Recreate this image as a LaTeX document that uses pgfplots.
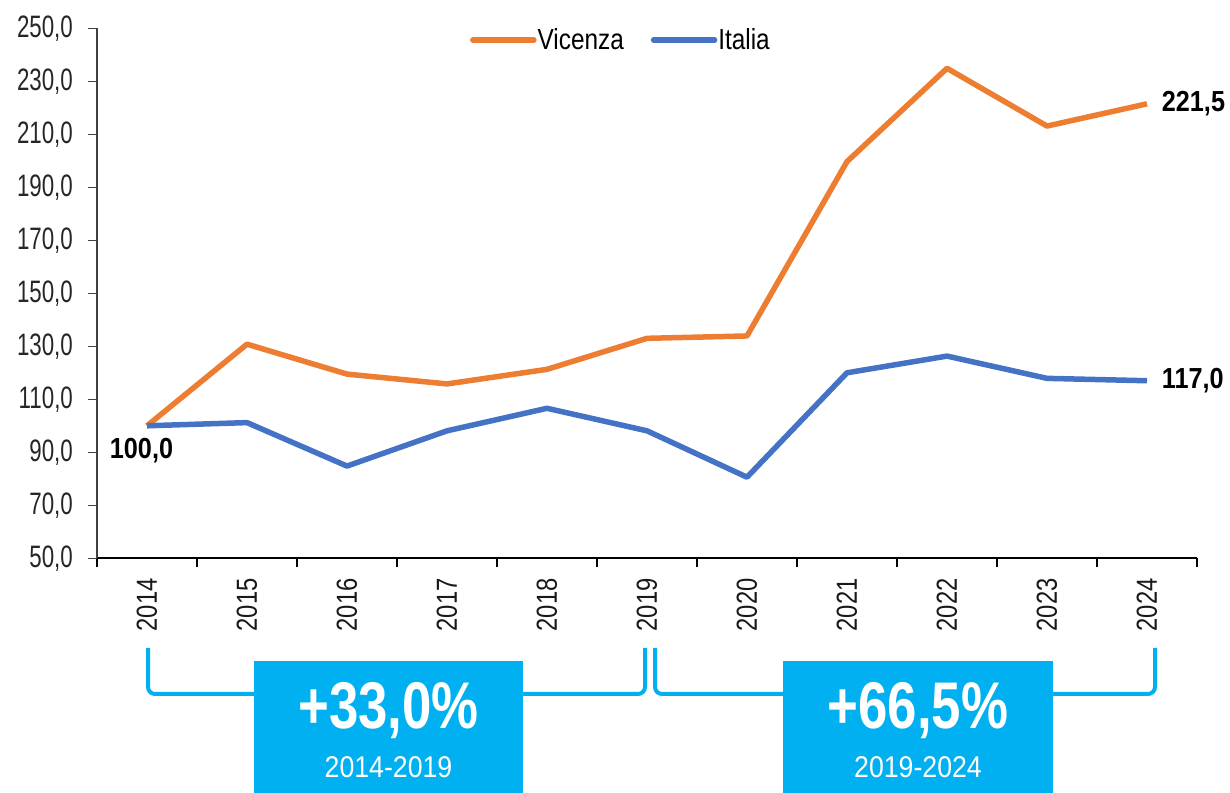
\documentclass[border=0pt]{standalone}
\usepackage{fontspec}
\setmainfont{Liberation Sans}
\newfontfamily\fTick{Liberation Sans}[FakeStretch=0.72]
\newfontfamily\fYear{Liberation Sans}[FakeStretch=0.82]
\newfontfamily\fLeg{Liberation Sans}[FakeStretch=0.84]
\newfontfamily\fLab{Liberation Sans}[FakeStretch=0.87]
\newfontfamily\fBig{Liberation Sans}[FakeStretch=0.80]
\newfontfamily\fSmall{Liberation Sans}[FakeStretch=0.89]
\usepackage{pgfplots}
\usepackage{pgfplotstable}
\pgfplotsset{compat=1.18}
\definecolor{vic}{HTML}{ED7D31}
\definecolor{ita}{HTML}{4472C4}
\definecolor{cy}{HTML}{00B0F0}

\pgfplotstableread{
year vic ita
2014 100.0 100.0
2015 130.8 101.2
2016 119.5 84.8
2017 115.8 98.1
2018 121.3 106.6
2019 133.0 98.1
2020 133.9 80.6
2021 199.7 120.0
2022 234.9 126.3
2023 213.1 117.9
2024 221.5 117.0
}\datatable

\begin{document}
\begin{tikzpicture}[x=1bp,y=1bp]
\useasboundingbox (0,0) rectangle (1230,793);
\begin{axis}[
  at={(97bp,234.7bp)}, anchor=south west,
  scale only axis, width=1100bp, height=530bp,
  xmin=2013.5, xmax=2024.5, ymin=50, ymax=250,
  clip=false,
  axis x line*=bottom, axis y line*=left,
  x axis line style={black, line width=2.2bp},
  y axis line style={black!75, line width=1.5bp},
  tick align=outside,
  major tick length=9bp,
  ytick={50,70,90,110,130,150,170,190,210,230,250},
  yticklabels={{50,0},{70,0},{90,0},{110,0},{130,0},{150,0},{170,0},{190,0},{210,0},{230,0},{250,0}},
  ytick style={black!75, line width=1.5bp},
  yticklabel style={font=\fTick\fontsize{31bp}{36bp}\selectfont, text=black!85, inner sep=0pt, xshift=-15bp},
  xtick={2013.5,2014.5,2015.5,2016.5,2017.5,2018.5,2019.5,2020.5,2021.5,2022.5,2023.5,2024.5},
  xticklabels={},
  xtick style={black, line width=2bp},
  extra x ticks={2014,2015,2016,2017,2018,2019,2020,2021,2022,2023,2024},
  extra x tick labels={2014,2015,2016,2017,2018,2019,2020,2021,2022,2023,2024},
  extra x tick style={major tick length=0pt, tick style={draw=none}},
  xticklabel style={yshift=-20bp, rotate=90, anchor=east, inner sep=0pt, font=\fYear\fontsize{29bp}{33bp}\selectfont, text=black!90},
  legend style={at={(0.339,0.978)}, anchor=west, draw=none, fill=none,
    font=\fLeg\fontsize{29bp}{34bp}\selectfont, inner sep=0pt,
    nodes={inner sep=1bp},
    /tikz/every even column/.append style={column sep=26bp}},
  legend columns=2,
  legend image code/.code={\draw[#1, line cap=round] (0bp,0bp) -- (61bp,0bp);},
]
\addplot[vic, line width=5.5bp, line join=round] table[x=year,y=vic]{\datatable};
\addlegendentry{Vicenza}
\addplot[ita, line width=5.5bp, line join=round] table[x=year,y=ita]{\datatable};
\addlegendentry{Italia}
\node[anchor=north, inner sep=0pt, xshift=-5.5bp, yshift=-12bp, font=\fLab\bfseries\fontsize{29bp}{33bp}\selectfont] at (axis cs:2014,100) {100,0};
\node[anchor=west, inner sep=0pt, xshift=14.7bp, font=\fLab\bfseries\fontsize{29bp}{33bp}\selectfont] at (axis cs:2024,221.5) {221,5};
\node[anchor=west, inner sep=0pt, xshift=14.7bp, font=\fLab\bfseries\fontsize{29bp}{33bp}\selectfont] at (axis cs:2024,117) {117,0};
\end{axis}
\draw[cy, line width=4bp, rounded corners=7bp] (148,145) -- (148,99) -- (645,99) -- (645,145);
\draw[cy, line width=4bp, rounded corners=7bp] (655,145) -- (655,99) -- (1155,99) -- (1155,145);
\fill[cy] (254,0) rectangle (523,132);
\fill[cy] (783,0) rectangle (1053,132);
\node[white, inner sep=0pt, font=\fBig\bfseries\fontsize{66bp}{70bp}\selectfont] at (388.5,82) {+33,0\%};
\node[white, inner sep=0pt, font=\fSmall\fontsize{30bp}{34bp}\selectfont] at (388.5,26) {2014-2019};
\node[white, inner sep=0pt, font=\fBig\bfseries\fontsize{66bp}{70bp}\selectfont] at (918,82) {+66,5\%};
\node[white, inner sep=0pt, font=\fSmall\fontsize{30bp}{34bp}\selectfont] at (918,26) {2019-2024};
\end{tikzpicture}
\end{document}
